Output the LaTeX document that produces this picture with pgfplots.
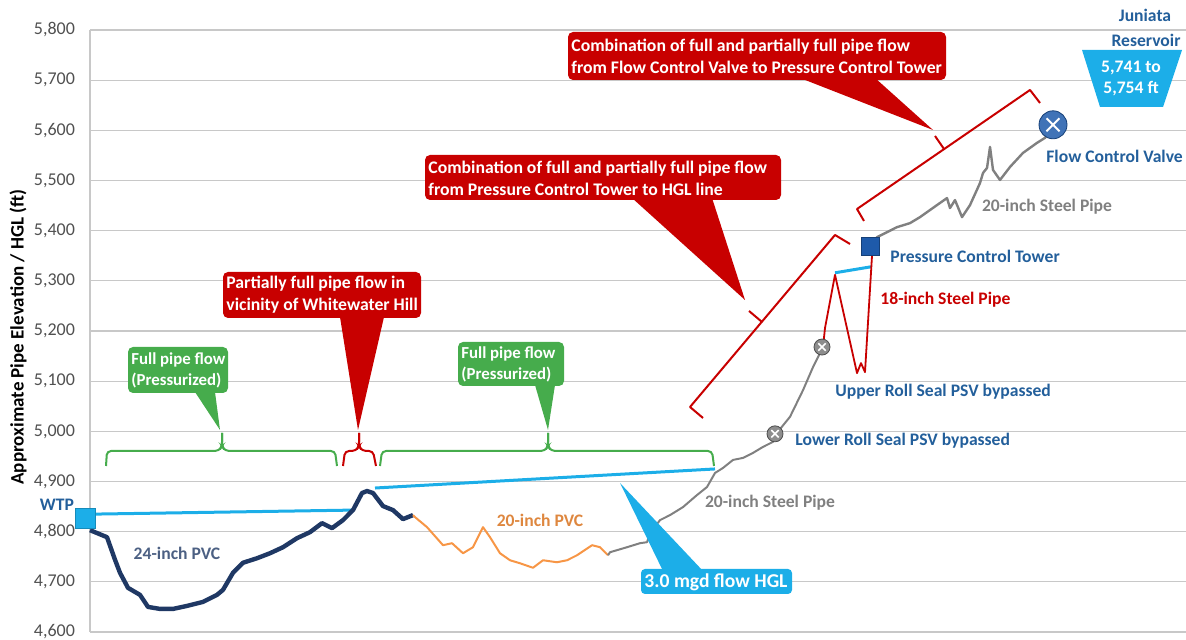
\documentclass[border=0pt]{standalone}
\usepackage{fontspec}
\setmainfont{Carlito}
\usepackage{pgfplots}
\pgfplotsset{compat=1.18}

\definecolor{navy}{RGB}{31,56,100}
\definecolor{pvcorange}{RGB}{247,150,70}
\definecolor{steelgray}{RGB}{128,128,128}
\definecolor{hglblue}{RGB}{28,174,232}
\definecolor{callred}{RGB}{200,0,0}
\definecolor{callgreen}{RGB}{70,172,76}
\definecolor{txtblue}{RGB}{35,95,155}
\definecolor{pctblue}{RGB}{30,90,170}
\definecolor{gridgray}{RGB}{200,200,200}
\definecolor{tickgray}{RGB}{80,80,80}

\begin{document}
\begin{tikzpicture}[
  lbl/.style={font=\fontsize{8.8}{10.5}\selectfont\bfseries, inner sep=0pt},
  clbl/.style={font=\fontsize{8.85}{11}\selectfont\bfseries, inner sep=0pt, text=white, anchor=west, align=left},
  glbl/.style={font=\fontsize{8.4}{10.5}\selectfont\bfseries, inner sep=0pt, text=white, anchor=west, align=left}]
\begin{axis}[
  at={(0,0)}, anchor=south west,
  scale only axis, width=548pt, height=301pt,
  xmin=90, xmax=1186, ymin=4600, ymax=5800,
  ytick={4600,4700,...,5800},
  xtick=\empty,
  axis x line=none,
  axis y line=left,
  y axis line style={-, draw=gridgray, line width=0.8pt},
  ymajorgrids,
  grid style={draw=gridgray, line width=0.6pt},
  major tick length=0pt,
  /pgf/number format/assume math mode=true,
  /pgf/number format/1000 sep={,},
  yticklabel style={font=\fontsize{9}{10}\selectfont, text=tickgray, xshift=-4pt},
  ylabel={Approximate Pipe Elevation / HGL (ft)},
  every axis y label/.style={at={(axis description cs:-0.0657,0.49)}, anchor=center, rotate=90,
    font=\fontsize{9.5}{11}\selectfont\bfseries},
  clip=false,
]
% 3.0 mgd HGL
\addplot[hglblue, line width=1.5pt] coordinates {(95,4835) (353,4843)};
\addplot[hglblue, line width=1.5pt] coordinates {(375,4887) (715,4925)};
\addplot[hglblue, line width=1.5pt] coordinates {(835,5316) (871,5328)};
% 24-inch PVC
\addplot[navy, line width=2.2pt, line join=round] coordinates {
 (90,4803) (107,4789) (115,4744) (120,4718) (128,4688) (140,4674) (148,4650)
 (160,4646) (173,4646) (187,4652) (203,4660) (217,4674) (223,4684) (233,4718)
 (243,4738) (257,4747) (270,4757) (283,4769) (297,4787) (310,4799) (322,4817)
 (332,4807) (343,4823) (353,4843) (362,4877) (367,4881) (373,4877) (383,4851)
 (393,4843) (403,4825) (413,4833)};
% 20-inch PVC
\addplot[pvcorange, line width=1pt, line join=round] coordinates {
 (413,4833) (415,4829) (427,4809) (443,4773) (452,4777) (463,4757) (473,4769)
 (483,4809) (490,4789) (500,4757) (510,4743) (520,4737) (533,4728) (543,4743)
 (557,4739) (567,4743) (577,4753) (592,4773) (600,4769) (608,4753)};
% 20-inch steel pipe (lower)
\addplot[steelgray, line width=1pt, line join=round] coordinates {
 (608,4753) (610,4759) (627,4769) (640,4777) (647,4779) (650,4797) (660,4823)
 (670,4833) (683,4849) (697,4873) (707,4889) (715,4917) (723,4927) (733,4943)
 (743,4947) (753,4957) (763,4969) (773,4979) (777,4997) (790,5029) (803,5082)
 (813,5128) (823,5168)};
% 18-inch steel pipe
\addplot[callred, line width=0.9pt, line join=round] coordinates {
 (823,5168) (825,5206) (835,5312) (857,5116) (861,5136) (865,5118) (872,5350) (871,5369)};
% 20-inch steel pipe (upper)
\addplot[steelgray, line width=1.2pt, line join=round] coordinates {
 (871,5369) (877,5387) (897,5407) (910,5415) (920,5427) (937,5451) (947,5465)
 (950,5445) (955,5461) (962,5427) (970,5451) (980,5495) (983,5515) (987,5525)
 (990,5567) (993,5521) (1000,5501) (1010,5527) (1023,5555) (1037,5575)
 (1045,5585) (1053,5611)};
% markers
\addplot[only marks, mark=square*, mark size=5pt, mark options={fill=hglblue, draw=hglblue!80!black}]
  coordinates {(85,4827)};
\addplot[only marks, mark=square*, mark size=4.5pt, mark options={fill=pctblue, draw=pctblue!70!black}]
  coordinates {(870,5369)};
\addplot[only marks, mark=*, mark size=4pt, mark options={fill=steelgray!90, draw=steelgray!60!black}]
  coordinates {(775,4995) (822,5168)};
\addplot[only marks, mark=x, mark size=2.6pt, mark options={draw=white, line width=0.8pt}]
  coordinates {(775,4995) (822,5168)};
\addplot[only marks, mark=*, mark size=7pt, mark options={fill=pctblue!85!white, draw=pctblue!70!black}]
  coordinates {(1053,5611)};
\addplot[only marks, mark=x, mark size=4.6pt, mark options={draw=white, line width=1pt}]
  coordinates {(1053,5611)};
\end{axis}

% annotations in image pixel units
\begin{scope}[x=0.5pt, y=-0.5pt, shift={(-45pt,316pt)}]
% brackets
\draw[callgreen, line width=1pt, rounded corners=2pt]
  (106,466) -- (107,451) -- (219,451) -- (222,446) -- (222,433);
\draw[callgreen, line width=1pt, rounded corners=2pt]
  (222,433) -- (222,446) -- (225,451) -- (335,451) -- (337,466);
\draw[callred, line width=1pt, rounded corners=2pt]
  (343,466) -- (345,451) -- (356,451) -- (359,446) -- (359,433);
\draw[callred, line width=1pt, rounded corners=2pt]
  (359,433) -- (359,446) -- (362,451) -- (373,451) -- (376,466);
\draw[callgreen, line width=1pt, rounded corners=2pt]
  (380,466) -- (382,451) -- (545,451) -- (548,446) -- (548,433);
\draw[callgreen, line width=1pt, rounded corners=2pt]
  (548,433) -- (548,446) -- (551,451) -- (712,451) -- (714,466);
\draw[callred, line width=1pt, line join=round]
  (703,418) -- (690,407) -- (835,235) -- (850,244);
\draw[callred, line width=1pt] (762,322) -- (749,311);
\draw[callred, line width=1pt, line join=round]
  (864,221) -- (857,209) -- (1030,90) -- (1040,103);
\draw[callred, line width=1pt] (944,149) -- (935,136);

% callouts
\fill[callgreen] (195,392) -- (215,392) -- (220,430) -- cycle;
\fill[callgreen, rounded corners=2.5pt] (128,347) rectangle (228,393);
\node[glbl] at (131,370) {Full pipe flow\\(Pressurized)};

\fill[callred] (340,317) -- (384,317) -- (358,430) -- cycle;
\fill[callred, rounded corners=2.5pt] (223,272) rectangle (421,318);
\node[clbl] at (226,295) {Partially full pipe flow in\\vicinity of Whitewater Hill};

\fill[callgreen] (535,385) -- (555,385) -- (548,430) -- cycle;
\fill[callgreen, rounded corners=2.5pt] (458,342) rectangle (564,386);
\node[glbl] at (461,364) {Full pipe flow\\(Pressurized)};

\fill[callred] (632,198) -- (712,198) -- (745,300) -- cycle;
\fill[callred, rounded corners=2.5pt] (425,155) rectangle (781,200);
\node[clbl] at (428,178) {Combination of full and partially full pipe flow\\from Pressure Control Tower to HGL line};

\fill[callred] (800,78) -- (875,78) -- (933,130) -- cycle;
\fill[callred, rounded corners=2.5pt] (568,32) rectangle (946,80);
\node[clbl] at (571,56) {Combination of full and partially full pipe flow\\from Flow Control Valve to Pressure Control Tower};

\fill[hglblue] (663,571) -- (703,571) -- (620,483) -- cycle;
\fill[hglblue, rounded corners=2pt] (641,569) rectangle (792,594);
\node[font=\fontsize{9.8}{11}\selectfont\bfseries, text=white, inner sep=0pt] at (716,582) {3.0 mgd flow HGL};

% reservoir
\fill[hglblue] (1082,50) -- (1182,50) -- (1163,107) -- (1100,107) -- cycle;
\node[lbl, text=white, align=center] at (1131,78) {5,741 to\\5,754 ft};
\node[lbl, text=txtblue] at (1145,15) {Juniata};
\node[lbl, text=txtblue] at (1146,40) {Reservoir};

% pipe and site labels
\node[lbl, text=txtblue] at (57,505) {WTP};
\node[lbl, text=navy!80!white] at (177,553) {24-inch PVC};
\node[lbl, text=pvcorange!90!black] at (540,520) {20-inch PVC};
\node[lbl, text=steelgray] at (770,503) {20-inch Steel Pipe};
\node[lbl, text=steelgray] at (1047,207) {20-inch Steel Pipe};
\node[lbl, text=txtblue, anchor=west] at (795,441) {Lower Roll Seal PSV bypassed};
\node[lbl, text=txtblue, anchor=west] at (835,392) {Upper Roll Seal PSV bypassed};
\node[lbl, text=callred, anchor=west] at (880,300) {18-inch Steel Pipe};
\node[lbl, text=txtblue, anchor=west] at (890,256) {Pressure Control Tower};
\node[lbl, text=txtblue, anchor=west] at (1046,156) {Flow Control Valve};
\end{scope}

\pgfresetboundingbox
\path[use as bounding box] (-45pt,-4pt) rectangle (548pt,316pt);
\end{tikzpicture}
\end{document}
